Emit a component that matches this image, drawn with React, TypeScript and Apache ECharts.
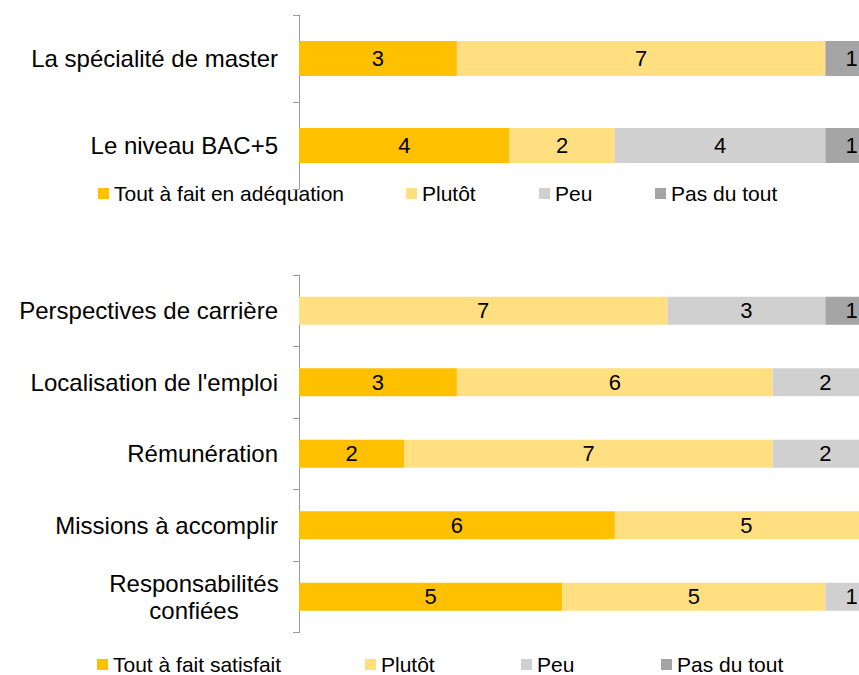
import React, { useEffect, useRef } from "react";
import * as echarts from "echarts";

const topCategories = ["La spécialité de master", "Le niveau BAC+5"];
const topSeriesNames = ["Tout à fait en adéquation", "Plutôt", "Peu", "Pas du tout"];
const topToutAFait = [3, 4];
const topPlutot = [7, 2];
const topPeu = [0, 4];
const topPasDuTout = [1, 1];

const bottomCategories = [
  "Perspectives de carrière",
  "Localisation de l'emploi",
  "Rémunération",
  "Missions à accomplir",
  "Responsabilités\nconfiées",
];
const bottomSeriesNames = ["Tout à fait satisfait", "Plutôt", "Peu", "Pas du tout"];
const bottomToutAFait = [0, 3, 2, 6, 5];
const bottomPlutot = [7, 6, 7, 5, 5];
const bottomPeu = [3, 2, 2, 0, 1];
const bottomPasDuTout = [1, 0, 0, 0, 0];

const colors = ["#FFC000", "#FFDF80", "#D0D0D0", "#A5A5A5"];
const FONT = "'Liberation Sans', Arial, Helvetica, sans-serif";

export default function App() {
  const ref = useRef<HTMLDivElement>(null);
  useEffect(() => {
    if (!ref.current) return;
    const chart = echarts.init(ref.current, undefined, { renderer: "svg" });

    const labelCfg = {
      show: true,
      position: "inside",
      color: "#000",
      fontSize: 22,
      fontFamily: FONT,
      formatter: (p: any) => (p.value ? String(p.value) : ""),
    };

    const topData = [topToutAFait, topPlutot, topPeu, topPasDuTout];
    const bottomData = [bottomToutAFait, bottomPlutot, bottomPeu, bottomPasDuTout];

    const series: any[] = [];
    topData.forEach((d, i) => {
      series.push({
        type: "bar",
        name: topSeriesNames[i],
        xAxisIndex: 0,
        yAxisIndex: 0,
        stack: "top",
        barWidth: 35,
        data: d,
        itemStyle: { color: colors[i] },
        label: labelCfg,
      });
    });
    bottomData.forEach((d, i) => {
      series.push({
        type: "bar",
        name: bottomSeriesNames[i],
        xAxisIndex: 1,
        yAxisIndex: 1,
        stack: "bottom",
        barWidth: 28,
        data: d,
        itemStyle: { color: colors[i] },
        label: labelCfg,
      });
    });

    const yAxisCommon = {
      type: "category",
      inverse: true,
      axisLine: { show: true, lineStyle: { color: "#9a9a9a", width: 1 } },
      axisTick: { show: true, length: 6, lineStyle: { color: "#9a9a9a" } },
      splitLine: { show: false },
    };
    const xAxisCommon = {
      type: "value",
      min: 0,
      max: 11,
      show: false,
      splitLine: { show: false },
    };

    const legendItem = (name: string, left: number, top: number, icon: string) => ({
      data: [{ name, itemStyle: { color: icon } }],
      left,
      top,
      padding: 0,
      itemWidth: 11,
      itemHeight: 11,
      itemGap: 5,
      icon: "rect",
      selectedMode: false,
      textStyle: {
        fontSize: 21,
        fontFamily: FONT,
        color: "#000",
        lineHeight: 21,
        padding: [0, 0, 0, 0],
      },
    });

    chart.setOption({
      animation: false,
      backgroundColor: "#fff",
      grid: [
        { left: 299, top: 15, height: 174, width: 579, containLabel: false, outerBoundsMode: "none" },
        { left: 299, top: 275, height: 357.5, width: 579, containLabel: false, outerBoundsMode: "none" },
      ],
      xAxis: [
        { ...xAxisCommon, gridIndex: 0 },
        { ...xAxisCommon, gridIndex: 1 },
      ],
      yAxis: [
        {
          ...yAxisCommon,
          gridIndex: 0,
          data: topCategories,
          axisLabel: { fontSize: 24, fontFamily: FONT, color: "#000", margin: 21 },
        },
        {
          ...yAxisCommon,
          gridIndex: 1,
          data: bottomCategories,
          axisLabel: {
            fontSize: 24,
            fontFamily: FONT,
            color: "#000",
            margin: 21,
            lineHeight: 27,
            formatter: (v: string) => {
              if (v.indexOf("\n") >= 0) {
                return v
                  .split("\n")
                  .map((s) => "{c|" + s + "}")
                  .join("\n");
              }
              return v;
            },
            rich: {
              c: {
                width: 168,
                align: "center",
                fontSize: 24,
                fontFamily: FONT,
                color: "#000",
                lineHeight: 27,
              },
            },
          },
        },
      ],
      legend: [
        legendItem(topSeriesNames[0], 98, 183, colors[0]),
        legendItem(topSeriesNames[1], 406, 183, colors[1]),
        legendItem(topSeriesNames[2], 539, 183, colors[2]),
        legendItem(topSeriesNames[3], 655, 183, colors[3]),
        legendItem(bottomSeriesNames[0], 97, 654, colors[0]),
        legendItem(bottomSeriesNames[1], 365, 654, colors[1]),
        legendItem(bottomSeriesNames[2], 521, 654, colors[2]),
        legendItem(bottomSeriesNames[3], 661, 654, colors[3]),
      ],
      series,
    });

    return () => chart.dispose();
  }, []);

  return (
    <div
      ref={ref}
      style={{ position: "fixed", left: 0, top: 0, width: 859, height: 675 }}
    />
  );
}
